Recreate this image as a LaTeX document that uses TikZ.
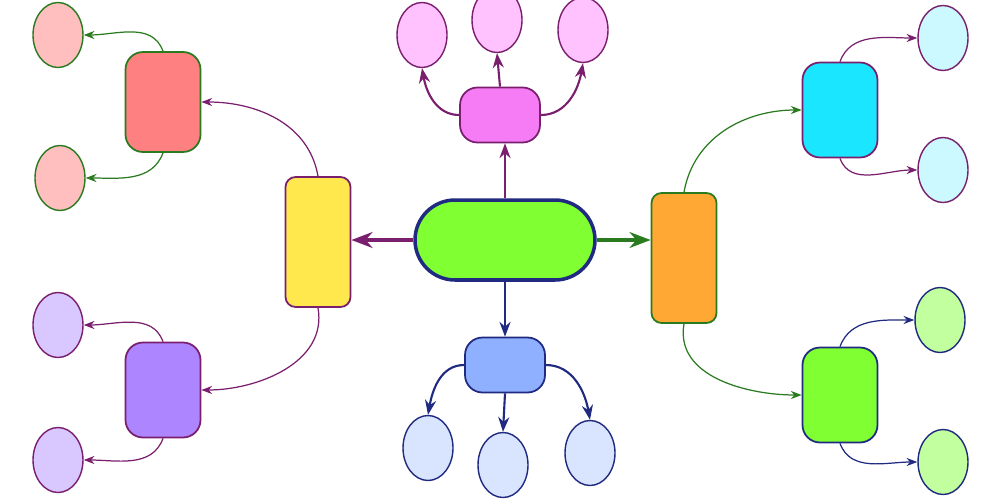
\documentclass[tikz,border=0pt]{standalone}
\usetikzlibrary{shapes.geometric,arrows.meta}
\definecolor{cgreen}{HTML}{80FF33}
\definecolor{cyellow}{HTML}{FFE84D}
\definecolor{corange}{HTML}{FFA833}
\definecolor{cmag}{HTML}{F57CF5}
\definecolor{cblue}{HTML}{8FB0FF}
\definecolor{cred}{HTML}{FF8080}
\definecolor{cpurple}{HTML}{AD85FF}
\definecolor{ccyan}{HTML}{1AE6FF}
\definecolor{lred}{HTML}{FFBFBF}
\definecolor{lpurple}{HTML}{D9C7FF}
\definecolor{lmag}{HTML}{FFC2FF}
\definecolor{lblue}{HTML}{D9E5FF}
\definecolor{lcyan}{HTML}{CCF8FF}
\definecolor{lgreen}{HTML}{C2FF9E}
\definecolor{dpurple}{HTML}{7A1F6E}
\definecolor{dnavy}{HTML}{1F2A80}
\definecolor{dgreen}{HTML}{2A7A1F}
\begin{document}
\begin{tikzpicture}[x=0.02cm,y=-0.02cm,>=Stealth,
    box/.style={draw,line width=1pt,rounded corners=0.35cm,inner sep=0pt},
    leaf/.style={ellipse,draw,line width=0.8pt,minimum width=1cm,minimum height=1.3cm,inner sep=0pt},
    link/.style={->,line width=0.7pt},
    main link/.style={->,line width=2pt}]
  \useasboundingbox (0,0) rectangle (1000,500);

  % centre and first ring
  \node[box,fill=cgreen,draw=dnavy,line width=2pt,rounded corners=0.8cm,minimum width=3.6cm,minimum height=1.6cm] (hub) at (505,240) {};
  \node[box,fill=cyellow,draw=dpurple,minimum width=1.3cm,minimum height=2.6cm,rounded corners=0.2cm] (yel) at (318,242) {};
  \node[box,fill=corange,draw=dgreen,minimum width=1.3cm,minimum height=2.6cm,rounded corners=0.2cm] (ora) at (684,258) {};
  \node[box,fill=cmag,draw=dpurple,minimum width=1.6cm,minimum height=1.1cm] (mag) at (500,115) {};
  \node[box,fill=cblue,draw=dnavy,minimum width=1.6cm,minimum height=1.1cm] (blu) at (505,365) {};

  % second ring
  \node[box,fill=cred,draw=dgreen,minimum width=1.5cm,minimum height=2cm] (red) at (163,102) {};
  \node[box,fill=cpurple,draw=dpurple,minimum width=1.5cm,minimum height=1.9cm] (pur) at (163,390) {};
  \node[box,fill=ccyan,draw=dpurple,minimum width=1.5cm,minimum height=1.9cm] (cya) at (840,110) {};
  \node[box,fill=cgreen,draw=dnavy,minimum width=1.5cm,minimum height=1.9cm] (gre) at (840,395) {};

  % leaves
  \node[leaf,fill=lred,draw=dgreen] (r1) at (58,35) {};
  \node[leaf,fill=lred,draw=dgreen] (r2) at (60,178) {};
  \node[leaf,fill=lpurple,draw=dpurple] (p1) at (58,325) {};
  \node[leaf,fill=lpurple,draw=dpurple] (p2) at (58,460) {};
  \node[leaf,fill=lmag,draw=dpurple] (m1) at (422,35) {};
  \node[leaf,fill=lmag,draw=dpurple] (m2) at (497,20) {};
  \node[leaf,fill=lmag,draw=dpurple] (m3) at (583,30) {};
  \node[leaf,fill=lblue,draw=dnavy] (b1) at (428,448) {};
  \node[leaf,fill=lblue,draw=dnavy] (b2) at (503,465) {};
  \node[leaf,fill=lblue,draw=dnavy] (b3) at (590,453) {};
  \node[leaf,fill=lcyan,draw=dpurple] (c1) at (943,38) {};
  \node[leaf,fill=lcyan,draw=dpurple] (c2) at (943,170) {};
  \node[leaf,fill=lgreen,draw=dnavy] (g1) at (940,320) {};
  \node[leaf,fill=lgreen,draw=dnavy] (g2) at (943,462) {};

  % connectors
  \draw[main link,dpurple] (hub.west) -- (hub.west -| yel.east);
  \draw[main link,dgreen] (hub.east) -- (hub.east -| ora.west);
  \draw[main link,dpurple,line width=1.2pt] (hub.north) -- (hub.north |- mag.south);
  \draw[main link,dnavy,line width=1.2pt] (hub.south) -- (hub.south |- blu.north);
  \draw[link,dpurple] (yel.north) to[out=100,in=0] (red.east);
  \draw[link,dpurple] (yel.south) to[out=-80,in=0] (pur.east);
  \draw[link,dgreen] (ora.north) to[out=80,in=180] (cya.west);
  \draw[link,dgreen] (ora.south) to[out=-100,in=180] (gre.west);
  \draw[link,dgreen] (red.north) to[out=110,in=0] (r1.east);
  \draw[link,dgreen] (red.south) to[out=-110,in=0] (r2.east);
  \draw[link,dpurple] (pur.north) to[out=110,in=0] (p1.east);
  \draw[link,dpurple] (pur.south) to[out=-110,in=0] (p2.east);
  \draw[link,dpurple] (cya.north) to[out=70,in=180] (c1.west);
  \draw[link,dpurple] (cya.south) to[out=-70,in=180] (c2.west);
  \draw[link,dnavy] (gre.north) to[out=70,in=180] (g1.west);
  \draw[link,dnavy] (gre.south) to[out=-70,in=180] (g2.west);
  \draw[main link,dpurple,line width=1.2pt] (mag.west) to[out=180,in=-80] (m1.south);
  \draw[main link,dpurple,line width=1.2pt] (mag.north) -- (m2.south);
  \draw[main link,dpurple,line width=1.2pt] (mag.east) to[out=0,in=-100] (m3.south);
  \draw[main link,dnavy,line width=1.2pt] (blu.west) to[out=180,in=80] (b1.north);
  \draw[main link,dnavy,line width=1.2pt] (blu.south) -- (b2.north);
  \draw[main link,dnavy,line width=1.2pt] (blu.east) to[out=0,in=100] (b3.north);
\end{tikzpicture}
\end{document}
